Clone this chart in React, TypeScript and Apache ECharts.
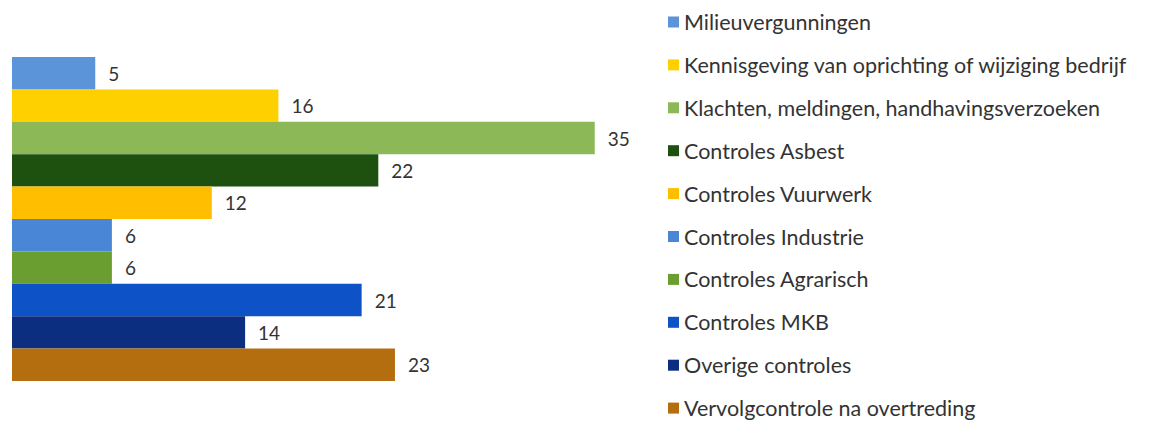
import React, { useEffect, useRef } from "react";
import * as echarts from "echarts";

const categories = [
  "Milieuvergunningen",
  "Kennisgeving van oprichting of wijziging bedrijf",
  "Klachten, meldingen, handhavingsverzoeken",
  "Controles Asbest",
  "Controles Vuurwerk",
  "Controles Industrie",
  "Controles Agrarisch",
  "Controles MKB",
  "Overige controles",
  "Vervolgcontrole na overtreding",
];
const values = [5, 16, 35, 22, 12, 6, 6, 21, 14, 23];
const colors = [
  "#5b94d8",
  "#ffd000",
  "#8db858",
  "#1e5010",
  "#ffbe00",
  "#4a86d6",
  "#6a9e30",
  "#0e52c8",
  "#0b2e80",
  "#b46e10",
];

export default function App() {
  const ref = useRef<HTMLDivElement>(null);
  useEffect(() => {
    if (!ref.current) return;
    const chart = echarts.init(ref.current, null, { renderer: "svg" });
    const series = categories.map((name, i) => ({
      name,
      type: "bar",
      stack: "all",
      barCategoryGap: 0,
      itemStyle: { color: colors[i] },
      label: {
        show: true,
        position: "right",
        distance: 13,
        color: "#333",
        fontSize: 19,
        fontFamily: "Lato",
        formatter: (p: any) => (p.value == null || p.value === "-" ? "" : String(p.value)),
      },
      data: categories.map((_, j) => (j === i ? values[i] : "-")),
    }));
    chart.setOption({
      animation: false,
      backgroundColor: "#fff",
      grid: { left: 4, top: 49, width: 666, height: 324, containLabel: false },
      xAxis: {
        type: "value",
        min: 0,
        max: 40,
        show: false,
      },
      yAxis: {
        type: "category",
        data: categories,
        inverse: true,
        show: false,
      },
      legend: {
        orient: "vertical",
        left: 660,
        top: 2,
        height: 520,
        padding: 0,
        icon: "rect",
        itemWidth: 11,
        itemHeight: 11,
        itemGap: 18.9,
        data: categories,
        textStyle: {
          color: "#333",
          fontSize: 21.5,
          fontFamily: "Lato",
          lineHeight: 24,
        },
      },
      series,
    });
    return () => chart.dispose();
  }, []);
  return <div ref={ref} style={{ width: 1143, height: 415 }} />;
}
